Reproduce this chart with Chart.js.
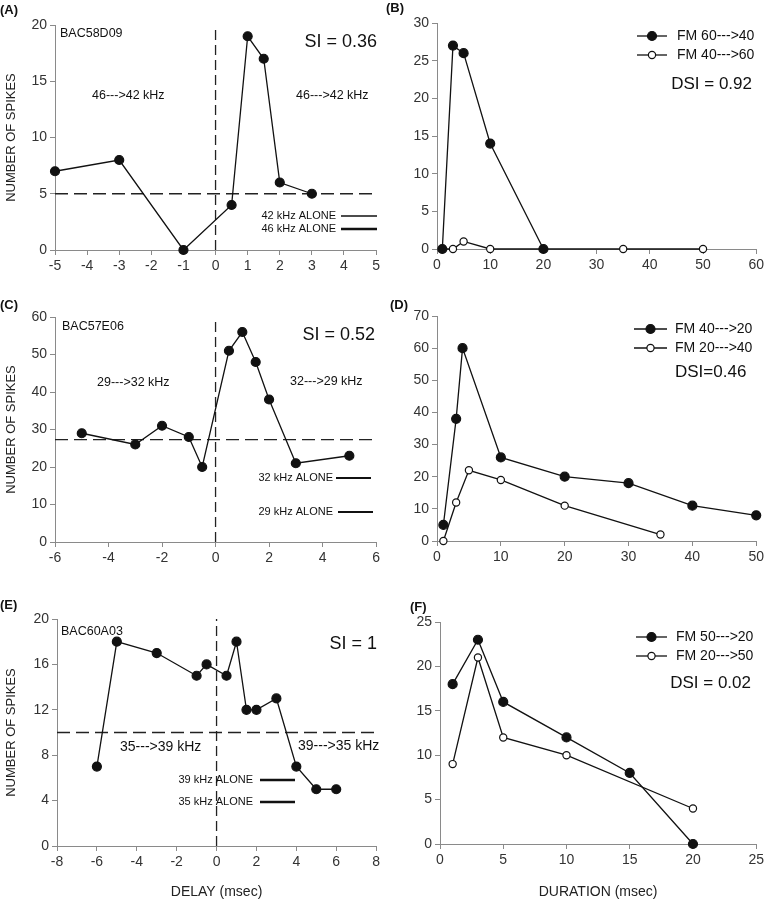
<!DOCTYPE html>
<html>
<head>
<meta charset="utf-8">
<script src="https://cdn.jsdelivr.net/npm/chart.js@4.4.1/dist/chart.umd.min.js"></script>
<style>
body{margin:0;background:#fff;}
#wrap{position:relative;width:767px;height:899px;overflow:hidden;background:#fff;}
canvas{position:absolute;}
</style>
</head>
<body>
<div id="wrap">
<canvas id="A"></canvas>
<canvas id="B"></canvas>
<canvas id="C"></canvas>
<canvas id="D"></canvas>
<canvas id="E"></canvas>
<canvas id="F"></canvas>
</div>
<script>

// (A) BAC58D09 - delay curve
const delayA = [-5, -3, -1, 0.5, 1, 1.5, 2, 3];
const spikesA = [7, 8, 0, 4, 19, 17, 6, 5];
const baseA = 5;

// (B) duration curves
const durDownB = [1, 3, 5, 10, 20];
const spikesDownB = [0, 27, 26, 14, 0];
const durUpB = [1, 3, 5, 10, 35, 50];
const spikesUpB = [0, 0, 1, 0, 0, 0];

// (C) BAC57E06
const delayC = [-5, -3, -2, -1, -0.5, 0.5, 1, 1.5, 2, 3, 5];
const spikesC = [29, 26, 31, 28, 20, 51, 56, 48, 38, 21, 23];
const baseC = 27.3;

// (D)
const durDownD = [1, 3, 4, 10, 20, 30, 40, 50];
const spikesDownD = [5, 38, 60, 26, 20, 18, 11, 8];
const durUpD = [1, 3, 5, 10, 20, 35];
const spikesUpD = [0, 12, 22, 19, 11, 2];

// (E) BAC60A03
const delayE = [-6, -5, -3, -1, -0.5, 0.5, 1, 1.5, 2, 3, 4, 5, 6];
const spikesE = [7, 18, 17, 15, 16, 15, 18, 12, 12, 13, 7, 5, 5];
const baseE = 10;

// (F)
const durDownF = [1, 3, 5, 10, 15, 20];
const spikesDownF = [18, 23, 16, 12, 8, 0];
const durUpF = [1, 3, 5, 10, 20];
const spikesUpF = [9, 21, 12, 10, 4];

const FONT = "'Liberation Sans', Arial, sans-serif";
const INK = '#111';
const AXIS = '#8a8a8a';


// datasets

const series = (xs, ys, filled) => ({
    data: xs.map((x, i) => ({x: x, y: ys[i]})),
    borderColor: INK,
    borderWidth: 1.3,
    pointRadius: filled ? 4.5 : 3.6,
    pointBackgroundColor: filled ? INK : '#fff',
    pointBorderColor: INK,
    pointBorderWidth: 1.2,
    tension: 0,
    clip: false
});

const dashed = (pts, dash) => ({
    data: pts,
    borderColor: '#222',
    borderWidth: 1.3,
    borderDash: dash,
    pointRadius: 0,
    clip: false
});

const hline = (y, x0, x1) => dashed([{x: x0, y: y}, {x: x1, y: y}], [13, 6]);
const vline = (x, y0, y1) => dashed([{x: x, y: y0}, {x: x, y: y1}], [10, 5]);


// texts and little legends drawn on top

const notesPlugin = (p) => ({
    id: 'notes' + p.id,
    afterDraw(chart) {
        var ctx = chart.ctx;
        var ox = p.box[0], oy = p.box[1];
        ctx.save();
        ctx.fillStyle = INK;
        ctx.strokeStyle = INK;
        ctx.textBaseline = 'middle';
        (p.texts || []).forEach(t => {
            ctx.font = (t.bold ? 'bold ' : '') + t.size + 'px ' + FONT;
            ctx.textAlign = t.align || 'left';
            ctx.fillText(t.t, t.x - ox, t.y - oy);
        });
        (p.bars || []).forEach(b => {
            ctx.lineWidth = b.w;
            ctx.beginPath();
            ctx.moveTo(b.x0 - ox, b.y - oy);
            ctx.lineTo(b.x1 - ox, b.y - oy);
            ctx.stroke();
        });
        (p.keys || []).forEach(k => {
            ctx.lineWidth = 1.3;
            ctx.beginPath();
            ctx.moveTo(k.x0 - ox, k.y - oy);
            ctx.lineTo(k.x1 - ox, k.y - oy);
            ctx.stroke();
            ctx.beginPath();
            ctx.arc((k.x0 + k.x1) / 2 - ox, k.y - oy, k.filled ? 4.5 : 3.6, 0, Math.PI * 2);
            ctx.fillStyle = k.filled ? INK : '#fff';
            ctx.fill();
            ctx.lineWidth = 1.2;
            ctx.stroke();
            ctx.fillStyle = INK;
            ctx.font = '14px ' + FONT;
            ctx.textAlign = 'left';
            ctx.fillText(k.t, k.tx - ox, k.y - oy);
        });
        ctx.restore();
    }
});


const makePanel = (p) => {
    var cv = document.getElementById(p.id);
    var bx = p.box, ar = p.area;
    cv.width = bx[2];
    cv.height = bx[3];
    cv.style.left = bx[0] + 'px';
    cv.style.top = bx[1] + 'px';

    var gridOpts = {display: true, drawOnChartArea: false, drawTicks: true, tickLength: 5, color: AXIS, lineWidth: 1};
    var tickFont = {family: FONT, size: 14};

    new Chart(cv, {
        type: 'line',
        data: {datasets: p.datasets},
        options: {
            responsive: false,
            animation: false,
            events: [],
            layout: {padding: {left: 0, top: ar[1] - bx[1], right: bx[0] + bx[2] - ar[2], bottom: 0}},
            plugins: {legend: {display: false}, tooltip: {enabled: false}},
            scales: {
                x: {
                    type: 'linear', min: p.x[0], max: p.x[1],
                    grid: gridOpts,
                    border: {color: AXIS, width: 1},
                    ticks: {stepSize: p.x[2], color: '#333', font: tickFont, padding: 3, maxRotation: 0, autoSkip: false},
                    title: {display: !!p.xTitle, text: p.xTitle || '', color: '#222',
                            font: {family: FONT, size: 14, lineHeight: 1}, padding: {top: 0, bottom: 0}},
                    afterFit: s => { s.height = bx[1] + bx[3] - ar[3]; }
                },
                y: {
                    type: 'linear', min: 0, max: p.y[1],
                    grid: gridOpts,
                    border: {color: AXIS, width: 1},
                    ticks: {stepSize: p.y[2], color: '#333', font: tickFont, padding: 3},
                    title: {display: !!p.yTitle, text: p.yTitle || '', color: '#222',
                            font: {family: FONT, size: 13}, padding: {top: 4, bottom: 4}},
                    afterFit: s => { s.width = ar[0] - bx[0]; }
                }
            }
        },
        plugins: [notesPlugin(p)]
    });
};


const YT = 'NUMBER OF SPIKES';

makePanel({
    id: 'A', box: [0, 0, 383, 285], area: [55, 25, 378, 250],
    x: [-5, 5, 1], y: [0, 20, 5], yTitle: YT,
    datasets: [series(delayA, spikesA, true), hline(baseA, -5, 5), vline(0, 0, 20)],
    texts: [
        {t: '(A)', x: 0, y: 10, size: 13, bold: true},
        {t: 'BAC58D09', x: 60, y: 34, size: 12.5},
        {t: 'SI = 0.36', x: 377, y: 42, size: 18, align: 'right'},
        {t: '46--->42 kHz', x: 92, y: 96, size: 12.5},
        {t: '46--->42 kHz', x: 296, y: 96, size: 12.5},
        {t: '42 kHz ALONE', x: 336, y: 216, size: 11, align: 'right'},
        {t: '46 kHz ALONE', x: 336, y: 229, size: 11, align: 'right'}
    ],
    bars: [{x0: 341, x1: 377, y: 216, w: 1.6}, {x0: 341, x1: 377, y: 229, w: 2.6}]
});

makePanel({
    id: 'B', box: [383, 0, 384, 285], area: [437, 23, 759, 249],
    x: [0, 60, 10], y: [0, 30, 5],
    datasets: [series(durDownB, spikesDownB, true), series(durUpB, spikesUpB, false)],
    texts: [
        {t: '(B)', x: 386, y: 8, size: 13, bold: true},
        {t: 'DSI = 0.92', x: 752, y: 84, size: 17, align: 'right'}
    ],
    keys: [
        {x0: 637, x1: 667, y: 36, filled: true, t: 'FM 60--->40', tx: 677},
        {x0: 637, x1: 667, y: 55, filled: false, t: 'FM 40--->60', tx: 677}
    ]
});

makePanel({
    id: 'C', box: [0, 285, 383, 290], area: [55, 317, 378, 542],
    x: [-6, 6, 2], y: [0, 60, 10], yTitle: YT,
    datasets: [series(delayC, spikesC, true), hline(baseC, -6, 6), vline(0, 0, 60)],
    texts: [
        {t: '(C)', x: 0, y: 305, size: 13, bold: true},
        {t: 'BAC57E06', x: 62, y: 327, size: 12.5},
        {t: 'SI = 0.52', x: 375, y: 335, size: 18, align: 'right'},
        {t: '29--->32 kHz', x: 97, y: 383, size: 12.5},
        {t: '32--->29 kHz', x: 290, y: 382, size: 12.5},
        {t: '32 kHz ALONE', x: 333, y: 478, size: 11, align: 'right'},
        {t: '29 kHz ALONE', x: 333, y: 512, size: 11, align: 'right'}
    ],
    bars: [{x0: 336, x1: 371, y: 478, w: 2}, {x0: 338, x1: 373, y: 512, w: 2.2}]
});

makePanel({
    id: 'D', box: [383, 285, 384, 290], area: [437, 316, 759, 541],
    x: [0, 50, 10], y: [0, 70, 10],
    datasets: [series(durDownD, spikesDownD, true), series(durUpD, spikesUpD, false)],
    texts: [
        {t: '(D)', x: 390, y: 305, size: 13, bold: true},
        {t: 'DSI=0.46', x: 675, y: 372, size: 17}
    ],
    keys: [
        {x0: 634, x1: 667, y: 329, filled: true, t: 'FM 40--->20', tx: 675},
        {x0: 634, x1: 667, y: 348, filled: false, t: 'FM 20--->40', tx: 675}
    ]
});

makePanel({
    id: 'E', box: [0, 575, 383, 324], area: [57, 619, 379, 846],
    x: [-8, 8, 2], y: [0, 20, 4], yTitle: YT, xTitle: 'DELAY (msec)',
    datasets: [series(delayE, spikesE, true), hline(baseE, -8, 8), vline(0, 0, 20)],
    texts: [
        {t: '(E)', x: 0, y: 605, size: 13, bold: true},
        {t: 'BAC60A03', x: 61, y: 632, size: 12.5},
        {t: 'SI = 1', x: 377, y: 644, size: 18, align: 'right'},
        {t: '35--->39 kHz', x: 120, y: 747, size: 14},
        {t: '39--->35 kHz', x: 298, y: 746, size: 14},
        {t: '39 kHz ALONE', x: 253, y: 780, size: 11, align: 'right'},
        {t: '35 kHz ALONE', x: 253, y: 802, size: 11, align: 'right'}
    ],
    bars: [{x0: 260, x1: 295, y: 780, w: 2.4}, {x0: 260, x1: 295, y: 802, w: 2.4}]
});

makePanel({
    id: 'F', box: [383, 575, 384, 324], area: [440, 622, 759, 844],
    x: [0, 25, 5], y: [0, 25, 5], xTitle: 'DURATION (msec)',
    datasets: [series(durDownF, spikesDownF, true), series(durUpF, spikesUpF, false)],
    texts: [
        {t: '(F)', x: 410, y: 607, size: 13, bold: true},
        {t: 'DSI = 0.02', x: 751, y: 683, size: 17, align: 'right'}
    ],
    keys: [
        {x0: 636, x1: 667, y: 637, filled: true, t: 'FM 50--->20', tx: 676},
        {x0: 636, x1: 667, y: 656, filled: false, t: 'FM 20--->50', tx: 676}
    ]
});

</script>
</body>
</html>
